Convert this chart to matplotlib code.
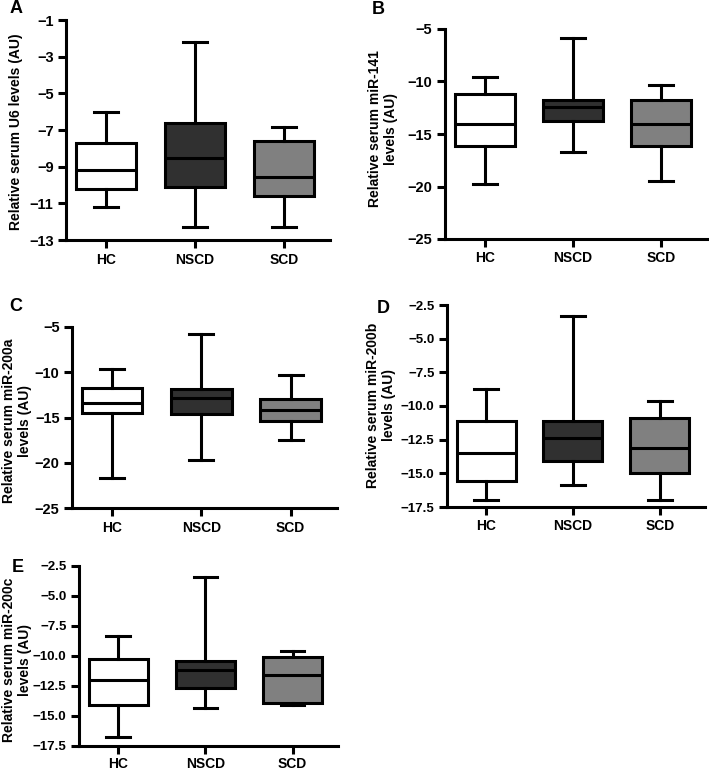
import matplotlib
matplotlib.use("Agg")
import matplotlib.pyplot as plt
import numpy as np

plt.rcParams['font.family'] = ['Liberation Sans', 'DejaVu Sans']
plt.rcParams['font.weight'] = 'bold'

groups = ['HC', 'NSCD', 'SCD']
colors = ['#ffffff', '#303030', '#808080']

# box stats per panel: [whisker low, Q1, median, Q3, whisker high] for HC, NSCD, SCD
u6 = [[-11.2, -10.2, -9.2, -7.7, -6.0],
      [-12.3, -10.1, -8.5, -6.6, -2.2],
      [-12.3, -10.6, -9.55, -7.6, -6.85]]
mir141 = [[-19.8, -16.1, -14.0, -11.15, -9.6],
          [-16.7, -13.8, -12.4, -11.8, -5.85],
          [-19.5, -16.1, -14.0, -11.8, -10.3]]
mir200a = [[-21.7, -14.55, -13.4, -11.7, -9.6],
           [-19.7, -14.6, -12.8, -11.8, -5.75],
           [-17.5, -15.35, -14.15, -12.95, -10.3]]
mir200b = [[-16.95, -15.55, -13.5, -11.1, -8.75],
           [-15.9, -14.05, -12.4, -11.1, -3.3],
           [-16.95, -15.0, -13.1, -10.9, -9.65]]
mir200c = [[-16.75, -14.05, -12.0, -10.25, -8.35],
           [-14.3, -12.7, -11.15, -10.4, -3.4],
           [-14.1, -13.9, -11.6, -10.05, -9.55]]

panels = [
    # letter, data, ylim, yticks, fmt, ylabel
    ('A', u6, (-13, -1), np.arange(-13, 0, 2), '%d', 'Relative serum U6 levels (AU)'),
    ('B', mir141, (-25, -5), np.arange(-25, -4, 5), '%d', 'Relative serum miR-141\nlevels (AU)'),
    ('C', mir200a, (-25, -5), np.arange(-25, -4, 5), '%d', 'Relative serum miR-200a\nlevels (AU)'),
    ('D', mir200b, (-17.5, -2.5), np.arange(-17.5, -2.4, 2.5), '%.1f', 'Relative serum miR-200b\nlevels (AU)'),
    ('E', mir200c, (-17.5, -2.5), np.arange(-17.5, -2.4, 2.5), '%.1f', 'Relative serum miR-200c\nlevels (AU)'),
]

# pixel layout: axes (left, right, top, bottom), letter (x, y), ylabel centre (x, y), tick font size
layout = [
    ((66, 330, 20, 240), (10, 0), (16, 132), 10.5),
    ((445, 707, 29, 239), (372, 1), (383, 129), 10.5),
    ((72, 337, 327, 508), (9, 298), (17, 421), 10.5),
    ((447, 705, 305, 507), (377, 300), (381, 405), 9.5),
    ((79, 338, 566, 746), (12, 559), (17, 660), 9.5),
]

W, H = 709, 774
fig = plt.figure(figsize=(W / 100, H / 100), dpi=100)

for (letter, data, ylim, yticks, fmt, ylabel), (box, lpos, ypos, fs) in zip(panels, layout):
    l, r, t, b = box
    ax = fig.add_axes([l / W, 1 - b / H, (r - l) / W, (b - t) / H])

    stats = []
    for name, (lo, q1, med, q3, hi) in zip(groups, data):
        stats.append({'label': name, 'whislo': lo, 'q1': q1, 'med': med,
                      'q3': q3, 'whishi': hi, 'fliers': []})
    bp = ax.bxp(stats, positions=[1, 2, 3], widths=0.68, capwidths=0.27,
                showfliers=False, patch_artist=True,
                boxprops=dict(linewidth=2.2, edgecolor='black'),
                medianprops=dict(color='black', linewidth=2.2),
                whiskerprops=dict(color='black', linewidth=2.2),
                capprops=dict(color='black', linewidth=2.2))
    for patch, c in zip(bp['boxes'], colors):
        patch.set_facecolor(c)

    ax.set_xlim(0.55, 3.52)
    ax.set_ylim(*ylim)
    ax.set_yticks(yticks)
    ax.set_yticklabels([(fmt % v).replace('-', '\u2212') for v in yticks])
    ax.set_xticks([1, 2, 3])
    ax.set_xticklabels(groups)
    for s in ['top', 'right']:
        ax.spines[s].set_visible(False)
    for s in ['left', 'bottom']:
        ax.spines[s].set_linewidth(2.2)
    ax.tick_params(axis='both', width=2.2, length=6, labelsize=fs, pad=3)
    ax.tick_params(axis='x', pad=3 if letter != 'E' else 2, labelsize=10)
    for lab in ax.get_xticklabels() + ax.get_yticklabels():
        lab.set_fontweight('bold')
    ax.set_facecolor('white')

    fig.text(lpos[0] / W, 1 - lpos[1] / H, letter, fontsize=13, fontweight='bold',
             ha='left', va='top')
    fig.text(ypos[0] / W, 1 - ypos[1] / H, ylabel, rotation=90, fontsize=10,
             fontweight='bold', ha='center', va='center', multialignment='center',
             linespacing=1.1)

fig.savefig('out.png', dpi=100)
